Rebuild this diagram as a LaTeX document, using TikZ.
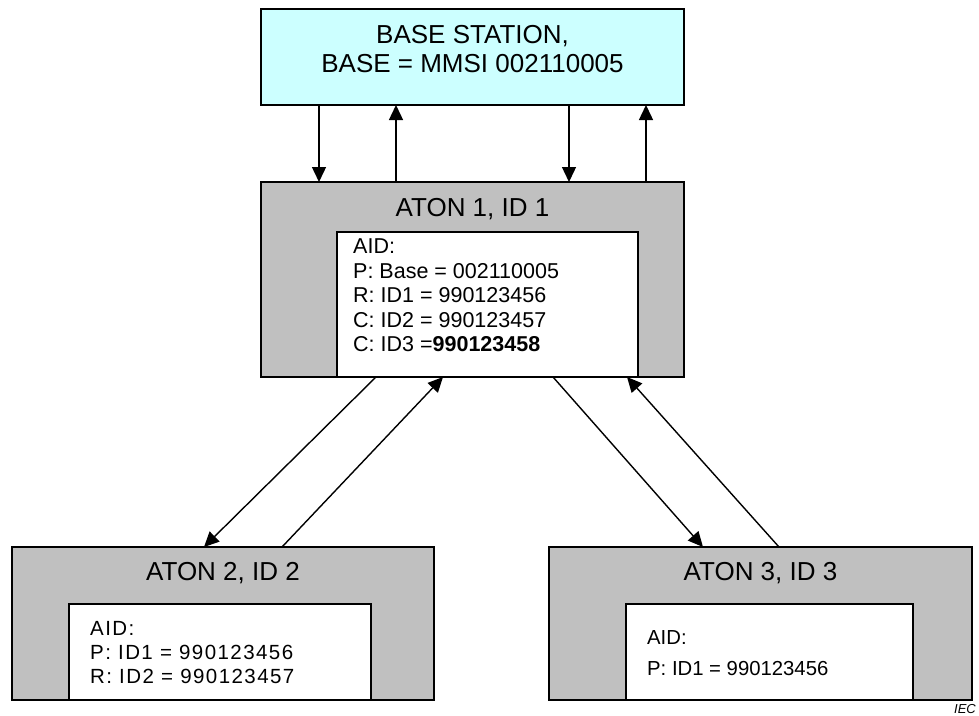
\documentclass[tikz,border=0pt]{standalone}
\usepackage{fontspec}
\setmainfont{Liberation Sans}
\usetikzlibrary{arrows.meta,calc}
\definecolor{basecyan}{HTML}{CCFFFF}
\definecolor{atongray}{HTML}{C0C0C0}
\begin{document}
\begin{tikzpicture}[x=1pt,y=-1pt,
  box/.style={draw,line width=1.8pt,anchor=north west,inner sep=0pt,outer sep=0pt,rectangle},
  basebox/.style={box,fill=basecyan},
  atonbox/.style={box,fill=atongray},
  aidbox/.style={box,fill=white},
  titletext/.style={inner sep=0pt,font=\fontsize{26}{29}\selectfont,align=center},
  aidtext/.style={inner sep=0pt,anchor=north west,align=left},
  arr/.style={line width=1.4pt,-{Triangle[length=15pt,width=14pt]}}
]
\useasboundingbox (0,0) rectangle (979,715);

% boxes
\node[basebox,minimum width=423pt,minimum height=96pt] (base) at (261,9) {};
\node[atonbox,minimum width=423pt,minimum height=195pt] (aton1) at (261,182) {};
\node[aidbox,minimum width=301pt,minimum height=145pt] (aid1) at (337,232) {};
\node[atonbox,minimum width=422pt,minimum height=153pt] (aton2) at (12,547) {};
\node[aidbox,minimum width=302pt,minimum height=96pt] (aid2) at (69,604) {};
\node[atonbox,minimum width=423pt,minimum height=153pt] (aton3) at (549,547) {};
\node[aidbox,minimum width=287pt,minimum height=96pt] (aid3) at (626,604) {};

% titles
\node[titletext,anchor=north] (basetitle) at (472.5,25.5) {BASE STATION,\\BASE = MMSI 002110005};
\node[titletext] (t1) at (472.5,209) {ATON 1, ID 1};
\node[titletext] (t2) at (223,573) {ATON 2, ID 2};
\node[titletext] (t3) at (760.5,573) {ATON 3, ID 3};

% AID texts
\node[aidtext,font=\fontsize{21.5}{24.5}\selectfont] (a1) at (353,239)
  {AID:\\P: Base = 002110005\\R: ID1 = 990123456\\C: ID2 = 990123457\\C: ID3 =\textbf{990123458}};
\node[aidtext,font=\fontsize{20.5}{24}\selectfont\addfontfeature{LetterSpace=7}] (a2) at (90,621)
  {AID:\\P: ID1 = 990123456\\R: ID2 = 990123457};
\node[aidtext,font=\fontsize{20.3}{31}\selectfont] (a3) at (647,630)
  {AID:\\P: ID1 = 990123456};

% IEC mark
\node[inner sep=0pt,anchor=base west,font=\fontsize{13}{15}\selectfont\itshape] (iec) at (954,713) {IEC};

% base <-> aton1
\draw[arr] ($(base.south west)+(58,0)$) -- ($(aton1.north west)+(58,0)$);
\draw[arr] ($(aton1.north west)+(135,0)$) -- ($(base.south west)+(135,0)$);
\draw[arr] ($(base.south west)+(308,0)$) -- ($(aton1.north west)+(308,0)$);
\draw[arr] ($(aton1.north west)+(385,0)$) -- ($(base.south west)+(385,0)$);

% aton1 <-> aton2 / aton3
\draw[arr] ($(aton1.south west)+(115,0)$) -- ($(aton2.north west)+(192,0)$);
\draw[arr] ($(aton2.north west)+(270,0)$) -- ($(aton1.south west)+(182,0)$);
\draw[arr] ($(aton1.south west)+(292,0)$) -- ($(aton3.north west)+(154,0)$);
\draw[arr] ($(aton3.north west)+(230,0)$) -- ($(aton1.south west)+(366,0)$);
\end{tikzpicture}
\end{document}
